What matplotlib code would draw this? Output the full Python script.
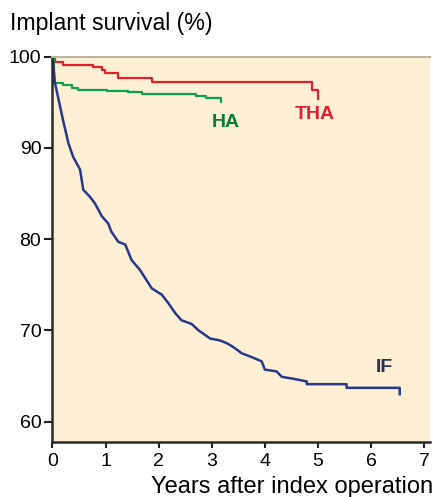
import numpy as np
import matplotlib
matplotlib.use('Agg')
import matplotlib.pyplot as plt

plt.rcParams['font.family'] = ['Liberation Sans', 'DejaVu Sans']

# Kaplan-Meier curves (years, survival %)
tha_x = [0, 0.05, 0.2, 0.77, 0.93, 0.99, 1.24, 1.87, 4.88, 5.0]
tha_y = [100, 99.4, 99.1, 98.9, 98.5, 98.2, 97.6, 97.2, 96.3, 95.3]

ha_x = [0, 0.03, 0.2, 0.36, 0.49, 1.02, 1.43, 1.68, 2.71, 2.9, 3.18]
ha_y = [100, 97.1, 96.9, 96.6, 96.3, 96.25, 96.1, 95.9, 95.7, 95.4, 95.05]

if_x = [0, 0.047, 0.2, 0.3, 0.39, 0.52, 0.58, 0.71, 0.8, 0.93, 1.05, 1.11,
        1.24, 1.37, 1.49, 1.65, 1.77, 1.87, 2.06, 2.18, 2.31, 2.43, 2.62,
        2.75, 2.97, 3.15, 3.28, 3.37, 3.47, 3.56, 3.78, 3.94, 4.0, 4.22,
        4.32, 4.53, 4.79, 4.79, 5.54, 5.54, 6.54, 6.54]
if_y = [100, 97.1, 93.0, 90.5, 89.0, 87.6, 85.4, 84.6, 83.9, 82.5, 81.7, 80.8,
        79.7, 79.4, 77.7, 76.6, 75.5, 74.6, 73.9, 73.0, 71.9, 71.1, 70.7,
        70.0, 69.1, 68.9, 68.6, 68.3, 67.9, 67.5, 67.0, 66.6, 65.7, 65.5,
        64.9, 64.7, 64.4, 64.1, 64.1, 63.7, 63.7, 63.0]

xticks = [0, 1, 2, 3, 4, 5, 6, 7]
yticks = [60, 70, 80, 90, 100]

red = '#e5202e'
green = '#0da04c'
navy = '#27378a'

fig = plt.figure(figsize=(4.33, 4.97), dpi=100)
ax = fig.add_axes([0.1212, 0.1113, 0.873, 0.775])
ax.set_facecolor('#fdefd3')

ax.plot(tha_x, tha_y, drawstyle='steps-post', color=red, lw=1.6)
ax.plot(ha_x, ha_y, drawstyle='steps-post', color=green, lw=1.6)
ax.plot(if_x, if_y, color=navy, lw=1.8)

ax.text(3.27, 92.8, 'HA', color='#0b7d3b', fontsize=14, fontweight='bold',
        ha='center', va='center')
ax.text(4.94, 93.65, 'THA', color=red, fontsize=14, fontweight='bold',
        ha='center', va='center')
ax.text(6.26, 65.9, 'IF', color='#2a2f55', fontsize=14, fontweight='bold',
        ha='center', va='center')

ax.set_xlim(0, 7.12)
ax.set_ylim(57.8, 100)
ax.set_xticks(xticks)
ax.set_yticks(yticks)
ax.tick_params(axis='both', labelsize=14, width=1.5, color='#222222')
ax.tick_params(axis='y', length=6, pad=2)
ax.tick_params(axis='x', length=4, pad=4)

ax.spines['right'].set_visible(False)
ax.spines['top'].set_color('#bdb39c')
ax.spines['top'].set_linewidth(1.5)
for s in ['left', 'bottom']:
    ax.spines[s].set_color('#2a2a2a')
    ax.spines[s].set_linewidth(1.8)

fig.text(0.023, 0.94, 'Implant survival (%)', fontsize=16.7, va='baseline', ha='left')
fig.text(1.0, 0.008, 'Years after index operation', fontsize=17, va='baseline', ha='right')

fig.savefig('out.png', dpi=100)
